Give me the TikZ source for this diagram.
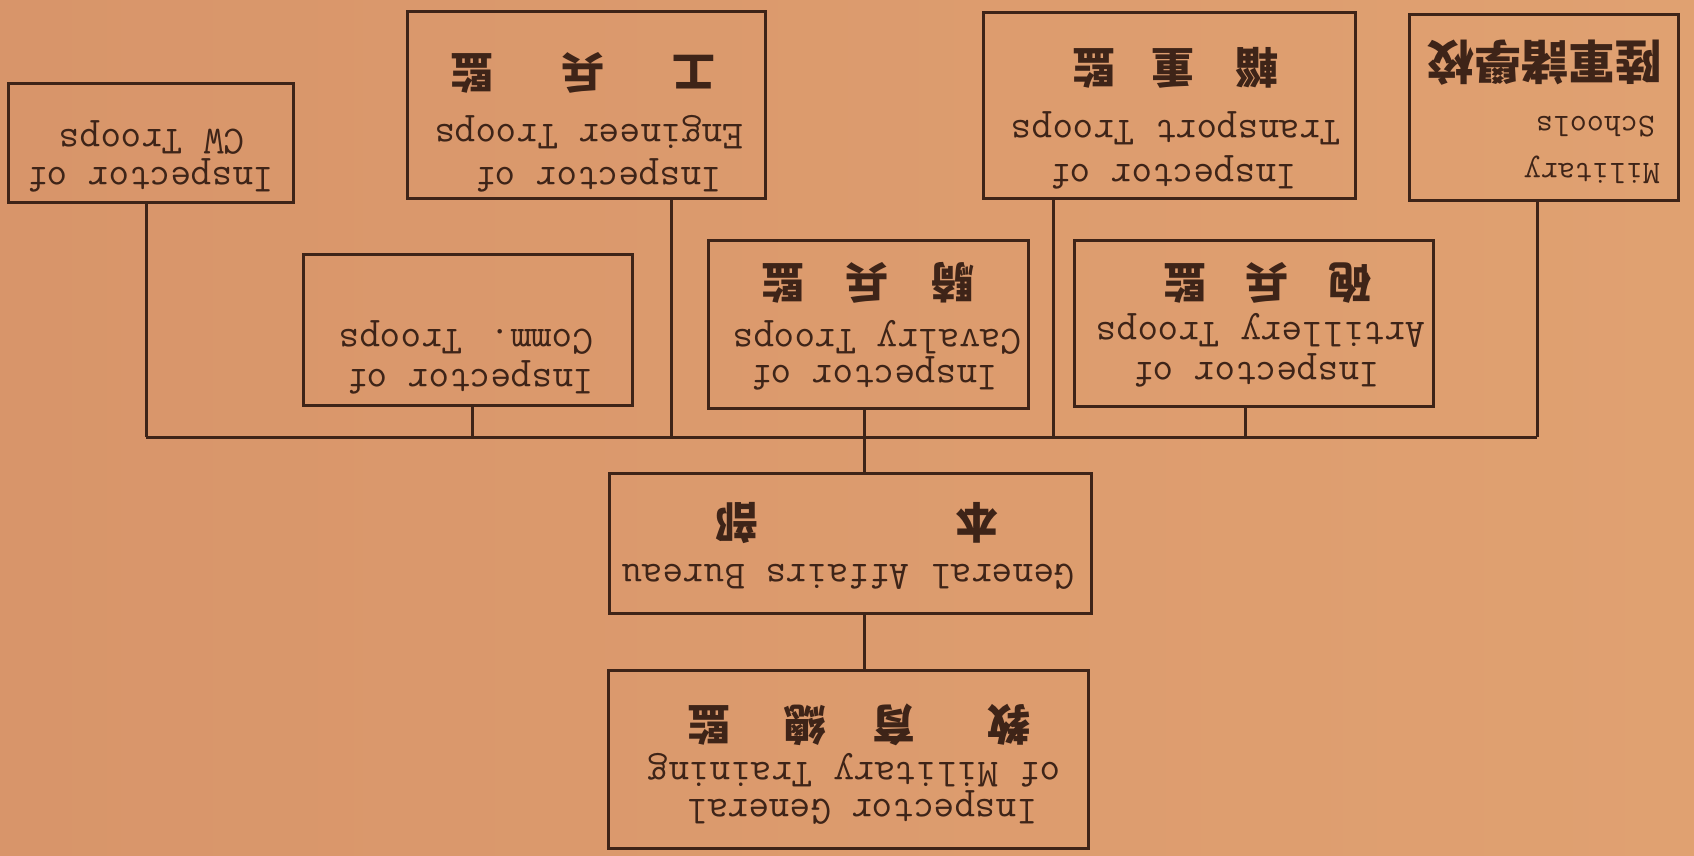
\documentclass[tikz,border=0pt]{standalone}
\usepackage{fontspec}
\newfontfamily\cjk{Noto Sans CJK TC}
\definecolor{paperL}{HTML}{D8956A}
\definecolor{paperM}{HTML}{E3A878}
\definecolor{paperR}{HTML}{E0A171}
\definecolor{ink}{HTML}{3E2418}
\tikzset{
  box/.style={draw=ink, line width=3pt, inner sep=0pt},
  en/.style={rotate=180, inner sep=0pt, text=ink, font=\fontsize{40}{44}\selectfont\ttfamily},
  ensm/.style={rotate=180, inner sep=0pt, text=ink, font=\fontsize{33}{36}\selectfont\ttfamily},
  zh/.style={rotate=180, inner sep=0pt, text=ink, font=\fontsize{43}{46}\selectfont\cjk\bfseries},
  zhbig/.style={rotate=180, inner sep=0pt, text=ink, font=\fontsize{47}{50}\selectfont\cjk\bfseries},
  link/.style={draw=ink, line width=3pt},
}
\begin{document}
\begin{tikzpicture}[x=1pt,y=-1pt]
\shade[left color=paperL, middle color=paperM, right color=paperR] (0,0) rectangle (1694,856);
\useasboundingbox (0,0) rectangle (1694,856);

% ---- top row boxes
\node[box, minimum width=285pt, minimum height=118pt] (cw)  at (150.5,143) {};
\node[box, minimum width=358pt, minimum height=186pt] (eng) at (586,105) {};
\node[box, minimum width=372pt, minimum height=185pt] (trn) at (1169,105.5) {};
\node[box, minimum width=269pt, minimum height=185pt] (mil) at (1543.5,107.5) {};
% ---- second row boxes
\node[box, minimum width=329pt, minimum height=151pt] (com) at (467.5,329.5) {};
\node[box, minimum width=320pt, minimum height=168pt] (cav) at (868,324) {};
\node[box, minimum width=359pt, minimum height=166pt] (art) at (1253.5,323) {};
% ---- lower boxes
\node[box, minimum width=482pt, minimum height=140pt] (gab) at (850,543) {};
\node[box, minimum width=480pt, minimum height=178pt] (trg) at (848,759) {};

% ---- texts
\node[en] (cw1) at (150,175) {Inspector of};
\node[en] (cw2) at (152,138) {CW Troops};

\node[zh] (eng0) at (583,73) {工\hspace{68pt}兵\hspace{68pt}監};
\node[en] (eng2) at (589,132) {Engineer Troops};
\node[en] (eng1) at (598,175) {Inspector of};

\node[zh] (trn0) at (1175,68) {輜\hspace{41pt}重\hspace{36pt}監};
\node[en] (trn2) at (1176,128) {Transport Troops};
\node[en] (trn1) at (1173,172) {Inspector of};

\node[zhbig] (mil0) at (1545,63) {陸軍諸學校};
\node[ensm, anchor=west] (mil2) at (1655,127) {Schools};
\node[ensm, anchor=west] (mil1) at (1660,170) {Military};

\node[en] (com2) at (466,338) {Comm. Troops};
\node[en] (com1) at (470,377) {Inspector of};

\node[zh] (cav0) at (868,283) {騎\hspace{43pt}兵\hspace{41pt}監};
\node[en] (cav2) at (877,337) {Cavalry Troops};
\node[en] (cav1) at (874,373) {Inspector of};

\node[zh] (art0) at (1267.5,283) {砲\hspace{40pt}兵\hspace{39pt}監};
\node[en] (art2) at (1261,330) {Artillery Troops};
\node[en] (art1) at (1256,370) {Inspector of};

\node[zh] (gab0) at (857,523) {本\hspace{197pt}部};
\node[en] (gab1) at (848,577) {General Affairs Bureau};

\node[zh] (trg0) at (859,725) {教\hspace{72pt}育\hspace{46pt}總\hspace{53pt}監};
\node[en] (trg2) at (854,770) {of Military Training};
\node[en] (trg1) at (862,808) {Inspector General};

% ---- connectors
\coordinate (busL) at (146,437);
\coordinate (busR) at (1537,437);
\coordinate (xeng) at (671,437);
\coordinate (xcom) at (472,437);
\coordinate (xcav) at (864,437);
\coordinate (xtrn) at (1053,437);
\coordinate (xart) at (1245,437);

\draw[link] (busL) -- (busR);
\draw[link] (cw.south -| busL) -- (busL);
\draw[link] (eng.south -| xeng) -- (xeng);
\draw[link] (trn.south -| xtrn) -- (xtrn);
\draw[link] (mil.south -| busR) -- (busR);
\draw[link] (com.south -| xcom) -- (xcom);
\draw[link] (cav.south -| xcav) -- (xcav);
\draw[link] (art.south -| xart) -- (xart);
\draw[link] (xcav) -- (gab.north -| xcav);
\draw[link] (gab.south -| xcav) -- (trg.north -| xcav);
\end{tikzpicture}
\end{document}
